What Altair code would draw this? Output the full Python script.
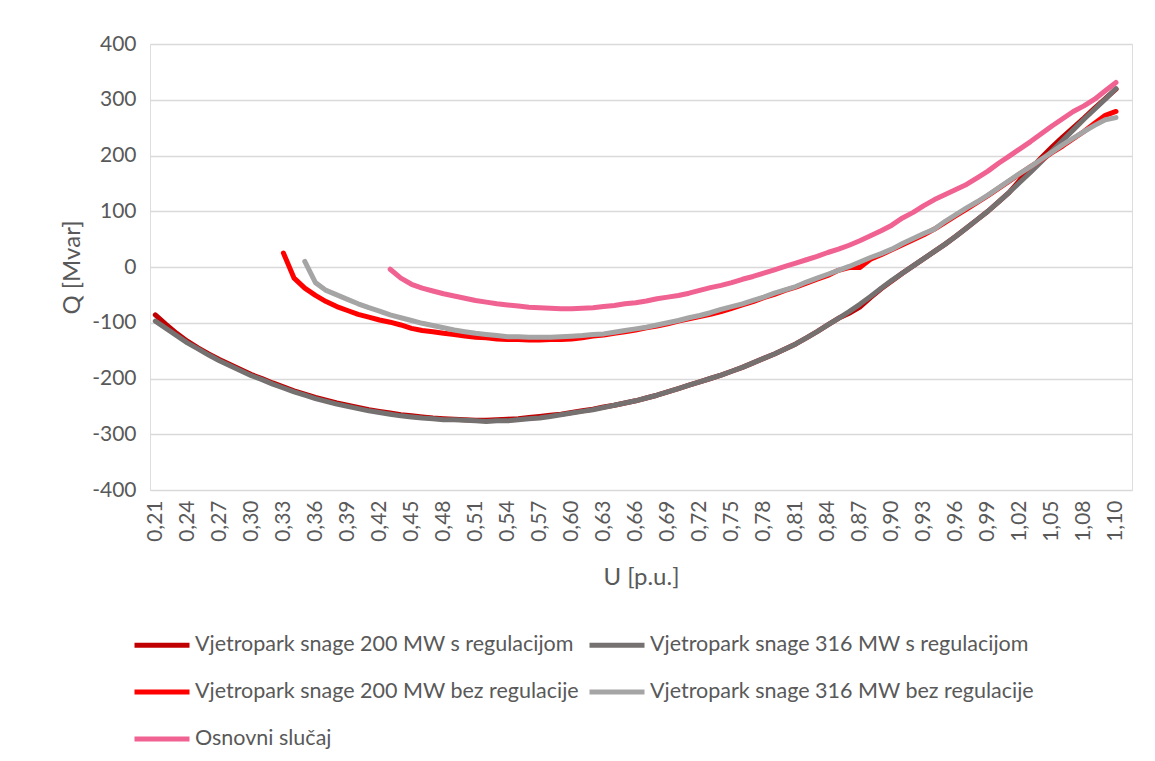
import altair as alt
import pandas as pd

# Category tick labels (every 3rd category, 0..90)
u_labels = ["0,21", "0,24", "0,27", "0,30", "0,33", "0,36", "0,39", "0,42", "0,45",
            "0,48", "0,51", "0,54", "0,57", "0,60", "0,63", "0,66", "0,69", "0,72",
            "0,75", "0,78", "0,81", "0,84", "0,87", "0,90", "0,93", "0,96", "0,99",
            "1,02", "1,05", "1,08", "1,10"]

series_names = ["Vjetropark snage 200 MW s regulacijom",
                "Vjetropark snage 316 MW s regulacijom",
                "Vjetropark snage 200 MW bez regulacije",
                "Vjetropark snage 316 MW bez regulacije",
                "Osnovni slučaj"]
colors = ["#C00000", "#767171", "#FF0000", "#A5A5A5", "#F06292"]

# 200 MW s regulacijom (index 0..90)
dr = [-86, -103, -119, -133, -145, -156, -166, -175, -184, -193,
      -200, -208, -215, -222, -228, -234, -239, -244, -248, -252,
      -256, -259, -262, -265, -267, -269, -271, -272, -273, -274,
      -275, -275, -274, -273, -272, -270, -268, -266, -264, -261,
      -258, -255, -251, -248, -244, -240, -235, -230, -224, -218,
      -212, -206, -200, -194, -187, -180, -172, -164, -156, -147,
      -138, -127, -116, -104, -92, -83, -72, -55, -39, -25,
      -11, 2, 15, 28, 41, 55, 70, 85, 100, 117,
      134, 156, 176, 196, 215, 233, 250, 267, 285, 302,
      319]

# 316 MW s regulacijom (index 0..90)
dg = [-97, -110, -123, -136, -147, -158, -168, -177, -186, -195,
      -202, -210, -217, -224, -230, -236, -241, -246, -250, -254,
      -258, -261, -264, -267, -269, -271, -272, -274, -274, -275,
      -276, -277, -276, -276, -274, -272, -271, -268, -265, -262,
      -259, -256, -252, -248, -244, -240, -235, -230, -224, -218,
      -212, -206, -200, -194, -187, -180, -172, -164, -156, -147,
      -138, -127, -116, -104, -92, -80, -67, -53, -38, -24,
      -11, 2, 15, 28, 41, 55, 70, 85, 100, 117,
      134, 152, 170, 189, 208, 227, 246, 265, 283, 301,
      320]

# 200 MW bez regulacije (index 12..90)
r_start = 12
r = [25, -20, -38, -51, -62, -71, -78, -85, -90, -95,
     -99, -104, -110, -114, -116, -119, -121, -124, -126, -127,
     -129, -130, -130, -131, -131, -130, -130, -129, -127, -124,
     -122, -119, -116, -113, -109, -106, -102, -97, -93, -89,
     -85, -80, -74, -68, -62, -55, -49, -42, -36, -29,
     -22, -15, -6, -1, -1, 14, 22, 31, 40, 49,
     58, 68, 80, 92, 104, 116, 128, 141, 154, 167,
     180, 192, 205, 217, 230, 243, 258, 272, 279]

# 316 MW bez regulacije (index 14..90)
lg_start = 14
lg = [10, -28, -42, -50, -58, -66, -73, -79, -86, -91,
      -96, -101, -105, -109, -113, -116, -119, -121, -123, -125,
      -125, -126, -126, -126, -125, -124, -123, -121, -120, -117,
      -114, -111, -108, -104, -100, -96, -91, -87, -82, -76,
      -71, -66, -60, -54, -47, -41, -35, -27, -20, -13,
      -6, 1, 9, 17, 24, 32, 42, 51, 60, 68,
      82, 94, 106, 117, 129, 142, 155, 168, 180, 193,
      206, 219, 231, 243, 254, 264, 268]

# Osnovni slučaj (index 22..90)
p_start = 22
p = [-4, -20, -31, -38, -43, -48, -52, -56, -60, -63,
     -66, -68, -70, -72, -73, -74, -75, -75, -74, -73,
     -71, -69, -66, -64, -61, -57, -54, -51, -47, -42,
     -37, -33, -28, -22, -17, -11, -5, 1, 7, 13,
     19, 26, 32, 39, 47, 56, 65, 75, 88, 98,
     110, 121, 130, 139, 148, 160, 172, 186, 199, 212,
     225, 239, 253, 266, 279, 289, 301, 316, 331]

rows = []
for name, start, vals in [(series_names[0], 0, dr), (series_names[1], 0, dg),
                          (series_names[2], r_start, r), (series_names[3], lg_start, lg),
                          (series_names[4], p_start, p)]:
    for k, v in enumerate(vals):
        rows.append({"s": name, "i": start + k, "q": v})
df = pd.DataFrame(rows)

label_expr = "[" + ",".join("'%s'" % l for l in u_labels) + "][round(datum.value/3)]"

FONT = "Lato"
TXT = "#595959"

x_enc = alt.X("i:Q",
              scale=alt.Scale(domain=[-0.5, 91.5], nice=False, zero=False),
              axis=alt.Axis(values=list(range(0, 91, 3)), labelExpr=label_expr,
                            labelAngle=270, grid=False, ticks=False, domain=False,
                            labelPadding=10, labelFontSize=21, labelFont=FONT,
                            labelColor=TXT, title="U [p.u.]", titleFontSize=24,
                            titleFont=FONT, titleColor=TXT, titleFontWeight="normal",
                            titlePadding=24, labelOverlap=False))
y_enc = alt.Y("q:Q",
              scale=alt.Scale(domain=[-400, 400], nice=False, zero=False),
              axis=alt.Axis(values=list(range(-400, 401, 100)), grid=True,
                            labelExpr="'' + datum.value",
                            gridColor="#D9D9D9", gridWidth=1.3, ticks=False, domain=False,
                            labelPadding=14, labelFontSize=21, labelFont=FONT,
                            labelColor=TXT, title="Q [Mvar]", titleFontSize=24,
                            titleFont=FONT, titleColor=TXT, titleFontWeight="normal",
                            titleX=-78, titleBaseline="middle"))
c_enc = alt.Color("s:N", scale=alt.Scale(domain=series_names, range=colors),
                  legend=alt.Legend(title=None, orient="none", legendX=-18, legendY=571,
                                    columns=2, direction="horizontal",
                                    symbolType="stroke", symbolSize=3025,
                                    symbolStrokeWidth=5, labelFontSize=21.5, labelFont=FONT,
                                    labelColor=TXT, labelLimit=0, rowPadding=6,
                                    columnPadding=0, labelOffset=3))

layers = []
for name in series_names:
    layers.append(
        alt.Chart(df).transform_filter(alt.datum.s == name)
        .mark_line(strokeWidth=5, strokeCap="round", strokeJoin="round")
        .encode(x=x_enc, y=y_enc, color=c_enc)
    )

chart = alt.layer(*layers).properties(
    width=982, height=446,
    autosize=alt.AutoSizeParams(type="none"),
    padding={"left": 142, "top": 36, "right": 10, "bottom": 262},
).configure_view(stroke=None).configure(background="white")

chart.save("out.html", embed_options={"renderer": "svg", "actions": False})
